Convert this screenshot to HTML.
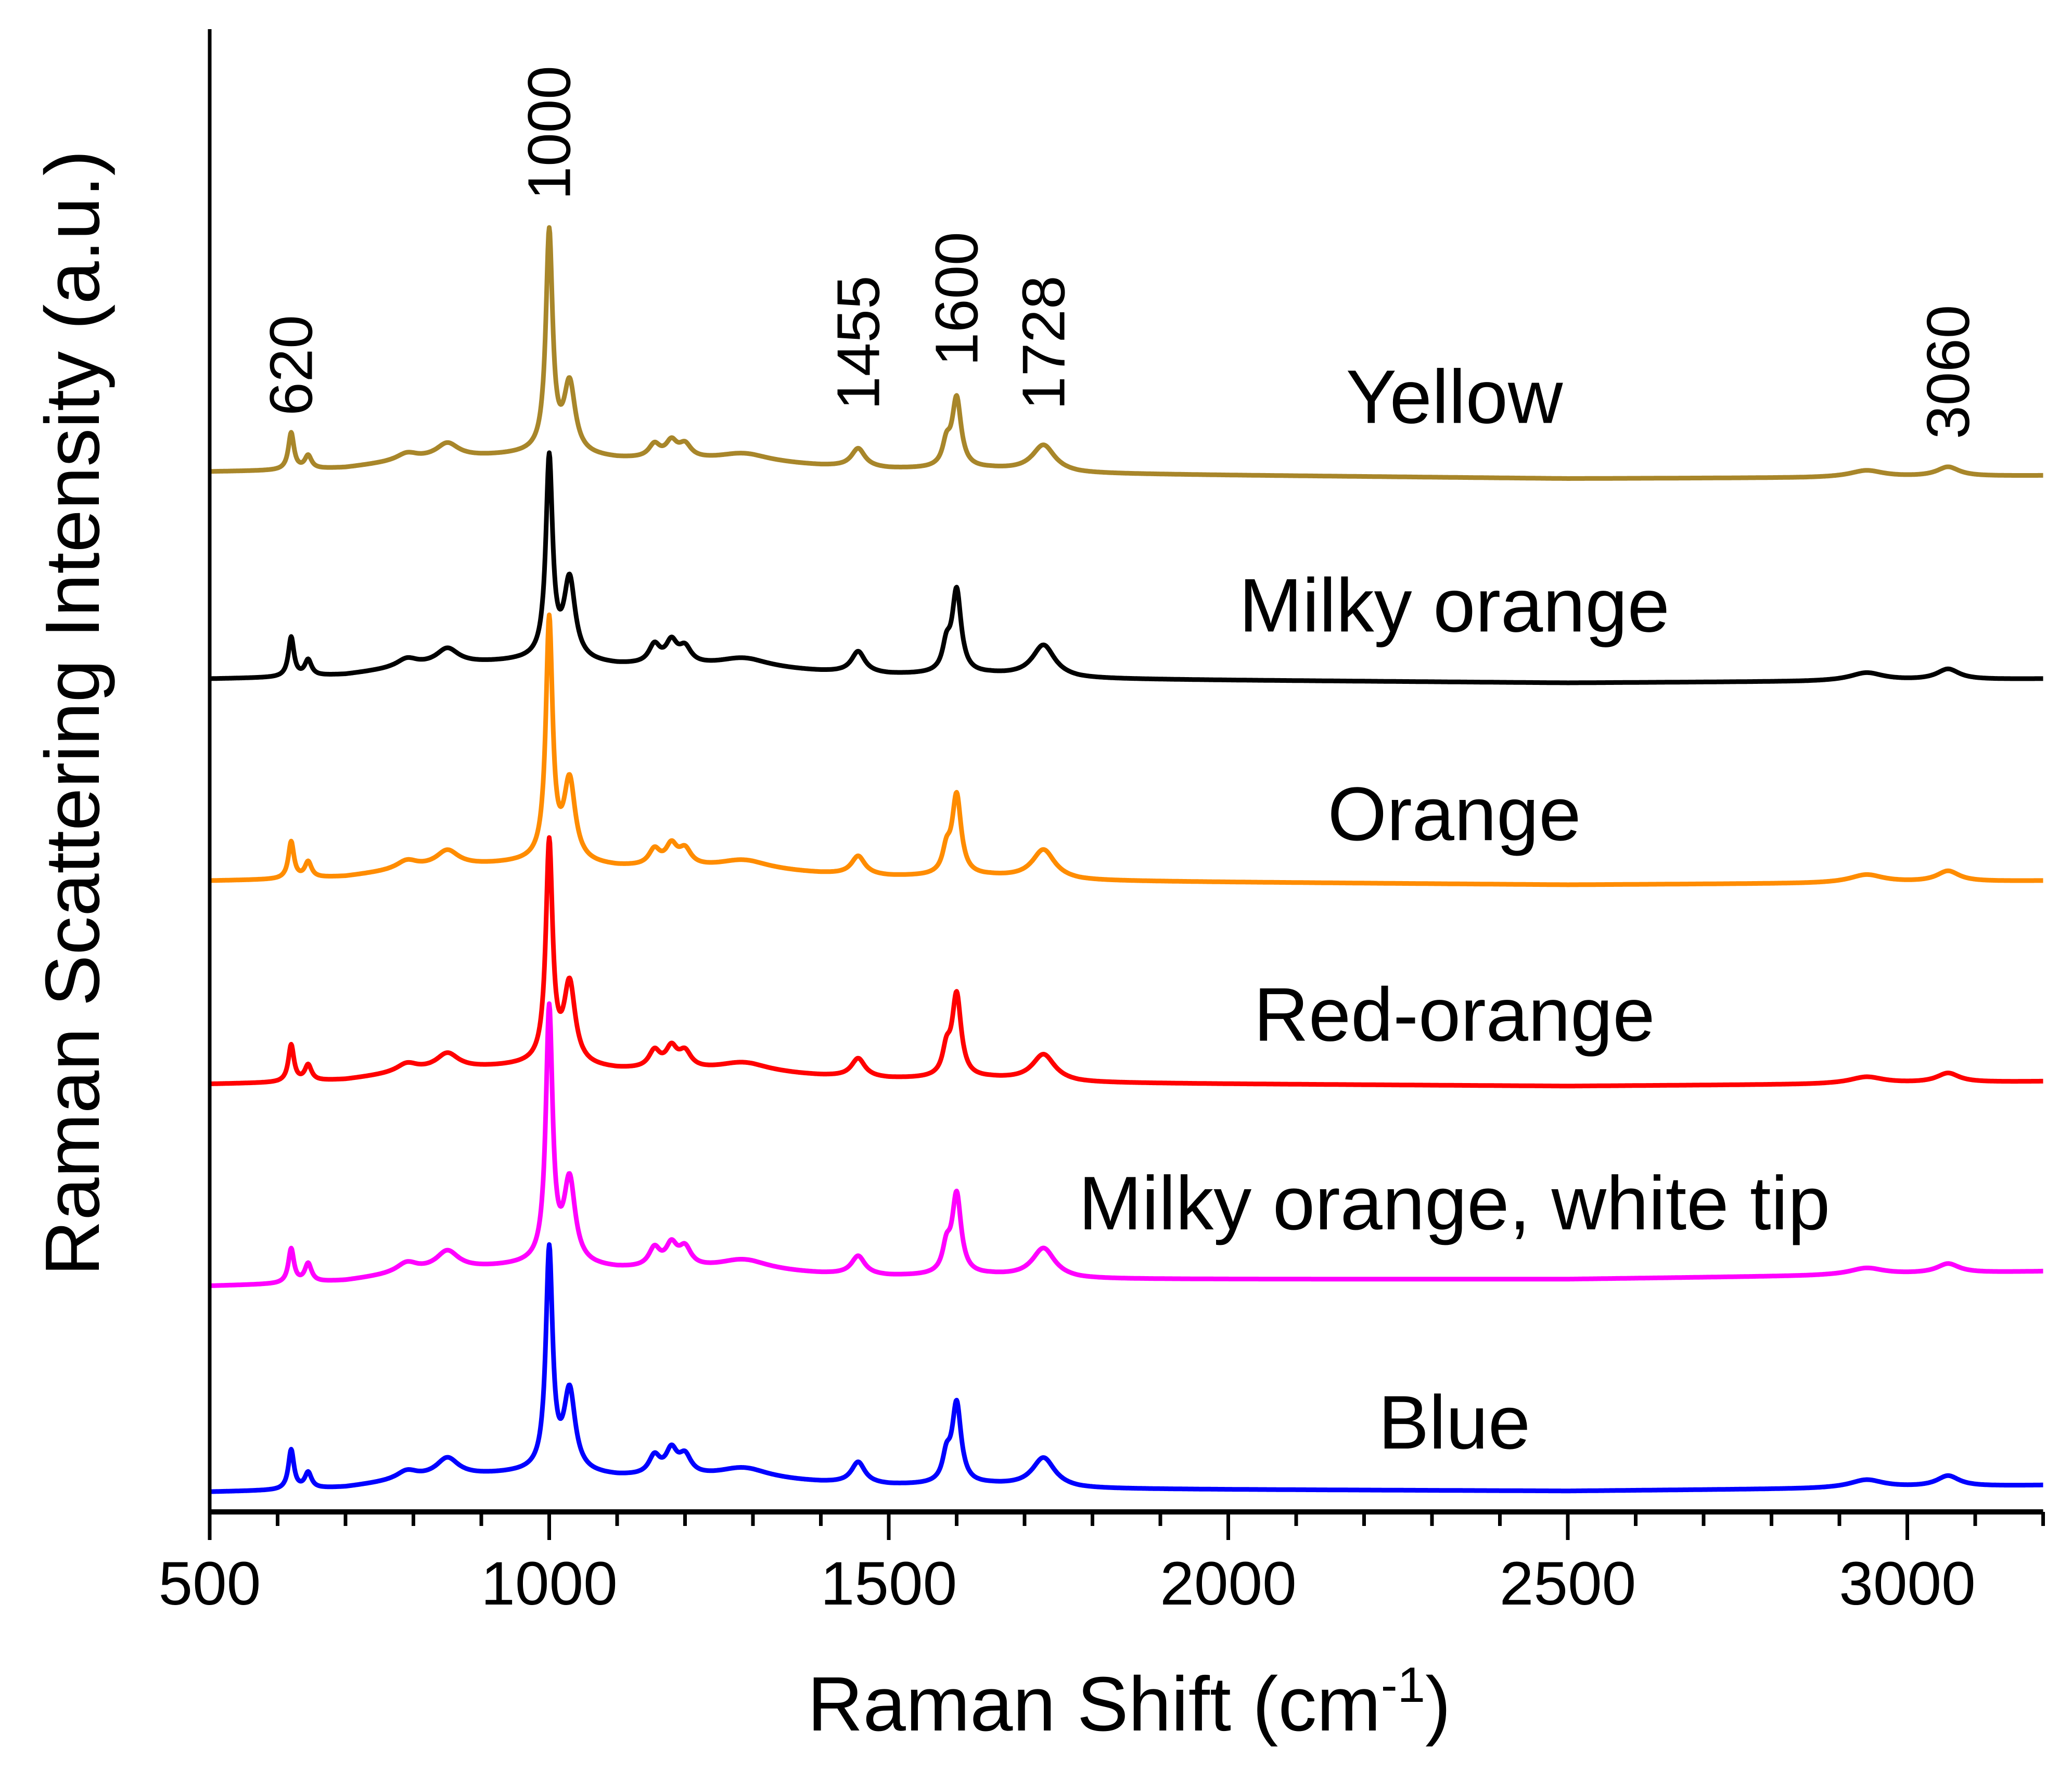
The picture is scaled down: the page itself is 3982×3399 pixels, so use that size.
<!DOCTYPE html>
<html><head><meta charset="utf-8"><style>
html,body{margin:0;padding:0;background:#fff;}
svg{display:block;font-family:"Liberation Sans",Arial,sans-serif;}
</style></head><body>
<svg id="chart" width="3982" height="3399" viewBox="0 0 3982 3399" xmlns="http://www.w3.org/2000/svg">
<g id="series"></g>
<g id="axes"></g>
<g id="labels"></g>
</svg>
<script>
// ---- data ----
const seriesNames = ["Yellow","Milky orange","Orange","Red-orange","Milky orange, white tip","Blue"];
const seriesColors = ["#a8862a","#000000","#ff8c00","#ff0000","#ff00ff","#0000ff"];
const seriesOffsets = [783, 627, 475, 322, 170, 15];
const seriesEndShift = [-3, 0, 0, 2, 11, 5];
const peakPos =   [620, 645, 790, 850, 1000, 1030, 1155, 1180, 1200, 1285, 1455, 1585, 1600, 1728, 2940, 3060];
const peakWidth = [5,   6,   18,  20,  6,    10,   10,   10,   11,   45,   12,   7,    8,    20,   30,   20];
const heightsYellow  = [28, 10, 5, 11, 165, 52, 10, 12, 10, 6, 14, 16, 52, 20, 5, 7];
const heightsMilky   = [30, 12, 6, 12, 150, 60, 14, 16, 12, 7, 16, 18, 62, 24, 6, 8];
const heightsOrange  = [28, 12, 6, 12, 180, 60, 12, 15, 12, 7, 14, 16, 60, 22, 6, 8];
const heightsRed     = [28, 12, 6, 12, 165, 60, 13, 15, 12, 7, 14, 18, 62, 20, 5, 7];
const heightsMagenta = [26, 14, 7, 14, 190, 62, 14, 16, 14, 8, 14, 18, 60, 22, 5, 7];
const heightsBlue    = [30, 12, 6, 14, 165, 60, 14, 18, 14, 8, 16, 18, 60, 22, 6, 8];
const seriesHeights = [heightsYellow, heightsMilky, heightsOrange, heightsRed, heightsMagenta, heightsBlue];
const baseX = [500, 620, 700, 800, 950, 990, 1100, 1200, 1300, 1400, 1500, 1650, 1780, 2000, 2500, 2850, 3200];
const baseY = [0, 1, 3, 9, 13, 14, 10, 9, 8, 5, 3, 3, 0, -1, -3, -2, 0];
const xTicks = [500, 1000, 1500, 2000, 2500, 3000];
const xTickLabels = ["500","1000","1500","2000","2500","3000"];
const peakLabelX = [620, 1000, 1455, 1600, 1728, 3060];
const peakLabelText = ["620","1000","1455","1600","1728","3060"];
const peakLabelY = [275, 100, 258, 225, 258, 280];
const seriesLabelY = [298, 455, 612, 763, 905, 1070];

// ---- scales ----
const X0 = 403, XPX = 1.305;
function xs(v){ return X0 + (v - 500) * XPX; }
const S = 2.5526;
function ys(u){ return 2905 - u * S; }

const NS = "http://www.w3.org/2000/svg";
function mk(tag, attrs, parent){ const e = document.createElementNS(NS, tag); for (const k in attrs) e.setAttribute(k, attrs[k]); parent.appendChild(e); return e; }

function baseline(x){
  for (let i = 0; i < baseX.length - 1; i++){
    if (x >= baseX[i] && x <= baseX[i+1]){
      const t = (x - baseX[i]) / (baseX[i+1] - baseX[i]);
      return baseY[i] + t * (baseY[i+1] - baseY[i]);
    }
  }
  return 0;
}

const gS = document.getElementById("series");
seriesNames.forEach((name, si) => {
  const h = seriesHeights[si];
  let d = "";
  for (let x = 500; x <= 3200; x += 1){
    let v = seriesOffsets[si] + baseline(x) + seriesEndShift[si] * (x - 500) / 2700;
    for (let p = 0; p < peakPos.length; p++){
      const w = peakWidth[p], q = (x - peakPos[p]) / w;
      v += h[p] / (1 + q * q);
    }
    d += (x === 500 ? "M" : "L") + xs(x).toFixed(1) + "," + ys(v).toFixed(1);
  }
  const path = mk("path", {d: d, fill: "none", stroke: seriesColors[si], "stroke-width": 9, "stroke-linejoin": "round"}, gS);
  
  
});

// ---- axes ----
const gA = document.getElementById("axes");
const yAxis = mk("line", {x1: X0, y1: 56, x2: X0, y2: 2909, stroke: "#000", "stroke-width": 7}, gA);


const xAxis = mk("line", {x1: X0 - 3, y1: 2905, x2: xs(3200), y2: 2905, stroke: "#000", "stroke-width": 10}, gA);


for (let v = 500; v <= 3200; v += 100){
  const major = v % 500 === 0;
  const t = mk("line", {x1: xs(v), y1: 2905, x2: xs(v), y2: 2905 + (major ? 54 : 27), stroke: "#000", "stroke-width": 7}, gA);
  
  
}
xTicks.forEach((v, i) => {
  const t = mk("text", {x: xs(v), y: 3083, "font-size": 118, "text-anchor": "middle", fill: "#000"}, gA);
  t.textContent = xTickLabels[i];
  
  
});
const xt = mk("text", {x: 2170, y: 3325, "font-size": 148, "text-anchor": "middle", fill: "#000"}, gA);
xt.innerHTML = 'Raman Shift (cm<tspan dy="-55" font-size="96">-1</tspan><tspan dy="55">)</tspan>';


const yt = mk("text", {x: 0, y: 0, "font-size": 148, "text-anchor": "middle", fill: "#000", transform: "translate(190,1370) rotate(-90)"}, gA);
yt.textContent = "Raman Scattering Intensity (a.u.)";



// ---- annotations ----
const gL = document.getElementById("labels");
peakLabelX.forEach((v, i) => {
  const t = mk("text", {x: 0, y: 0, "font-size": 116, "text-anchor": "middle", fill: "#000",
    transform: "translate(" + (xs(v) + 40) + "," + (peakLabelY[i] * S) + ") rotate(-90)"}, gL);
  t.textContent = peakLabelText[i];
  
  
});
seriesNames.forEach((n, i) => {
  const t = mk("text", {x: 2795, y: seriesLabelY[i] * S + 52, "font-size": 146, "text-anchor": "middle", fill: "#000"}, gL);
  t.textContent = n;
  
  
});
</script>
</body></html>
